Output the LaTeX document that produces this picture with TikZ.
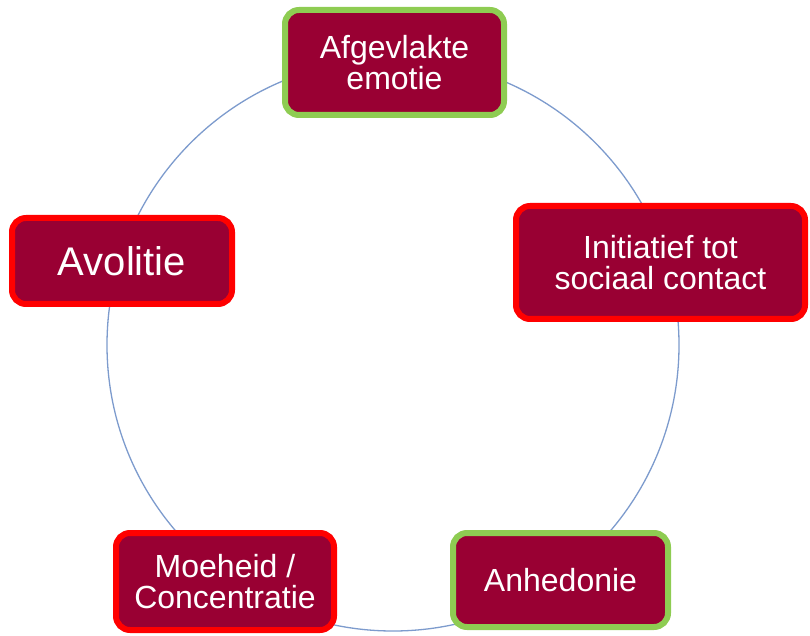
\documentclass[tikz,border=0pt]{standalone}
\usepackage{fontspec}
\setmainfont{Liberation Sans}
\usetikzlibrary{positioning}
\definecolor{wine}{RGB}{153,0,51}
\definecolor{rimred}{RGB}{255,0,0}
\definecolor{rimgreen}{RGB}{142,204,82}
\definecolor{ring}{RGB}{125,155,205}

\begin{document}
\begin{tikzpicture}[x=1pt, y=1pt,
  box/.style={rectangle, rounded corners=14pt, fill=wine, line width=6pt,
    text=white, align=center, font=\fontsize{32}{30.5}\selectfont},
  redbox/.style={box, draw=rimred},
  greenbox/.style={box, draw=rimgreen}]
\useasboundingbox (0,0) rectangle (810,635);
\coordinate (c) at (393,290);
\draw[ring, line width=1.3pt] (c) circle (286);
\node[greenbox, minimum width=219, minimum height=105] (afg) at (394.5,572.5) {Afgevlakte\\emotie};
\node[redbox, minimum width=289, minimum height=113] (ini) at (660.5,372.5) {Initiatief tot\\sociaal contact};
\node[redbox, minimum width=220, minimum height=86, font=\fontsize{40}{40}\selectfont] (avo) at (122,374) {Avolitie};
\node[redbox, minimum width=218, minimum height=97] (moe) at (225,53.5) {Moeheid /\\Concentratie};
\node[greenbox, minimum width=215, minimum height=94] (anh) at (560.5,55) {Anhedonie};
\end{tikzpicture}
\end{document}
